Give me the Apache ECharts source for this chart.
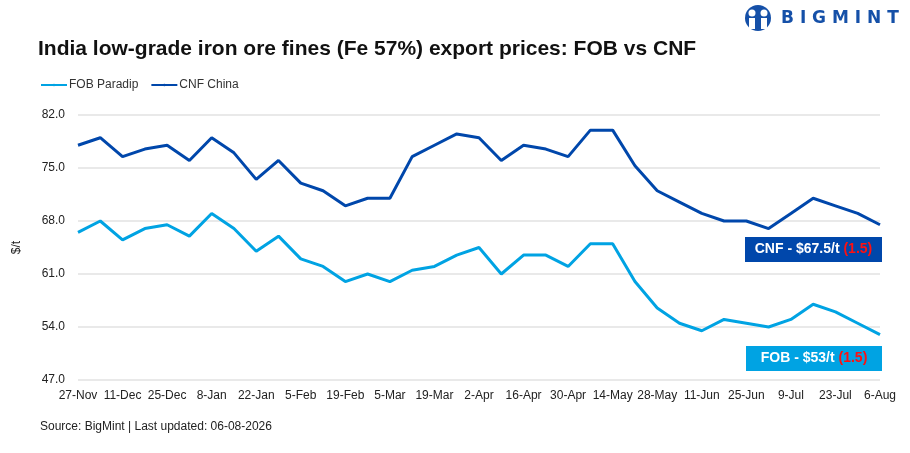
<!DOCTYPE html>
<html>
<head>
<meta charset="utf-8">
<script src="https://cdn.jsdelivr.net/npm/echarts@6/dist/echarts.min.js"></script>
<style>
  html, body { margin: 0; padding: 0; background: #fff; }
  #chart { width: 910px; height: 453px; }
</style>
</head>
<body>
<div id="chart"></div>
<script>
var weeks = ['27-Nov','4-Dec','11-Dec','18-Dec','25-Dec','1-Jan','8-Jan','15-Jan','22-Jan','29-Jan',
    '5-Feb','12-Feb','19-Feb','26-Feb','5-Mar','12-Mar','19-Mar','26-Mar','2-Apr','9-Apr',
    '16-Apr','23-Apr','30-Apr','7-May','14-May','21-May','28-May','4-Jun','11-Jun','18-Jun',
    '25-Jun','2-Jul','9-Jul','16-Jul','23-Jul','30-Jul','6-Aug'];
var fobParadip = [66.5, 68, 65.5, 67, 67.5, 66, 69, 67, 64, 66,
    63, 62, 60, 61, 60, 61.5, 62, 63.5, 64.5, 61,
    63.5, 63.5, 62, 65, 65, 60, 56.5, 54.5, 53.5, 55,
    54.5, 54, 55, 57, 56, 54.5, 53];
var cnfChina = [78, 79, 76.5, 77.5, 78, 76, 79, 77, 73.5, 76,
    73, 72, 70, 71, 71, 76.5, 78, 79.5, 79, 76,
    78, 77.5, 76.5, 80, 80, 75.3, 72, 70.5, 69, 68,
    68, 67, 69, 71, 70, 69, 67.5];
var yTicks = [47, 54, 61, 68, 75, 82];

var fobColor = '#00a3e3';
var cnfColor = '#0047ab';
var font = 'Liberation Sans, Arial, sans-serif';

var chart = echarts.init(document.getElementById('chart'));
chart.setOption({
    animation: false,
    textStyle: { fontFamily: font },
    title: {
        text: 'India low-grade iron ore fines (Fe 57%) export prices: FOB vs CNF',
        left: 33,
        top: 34,
        textStyle: {
            fontSize: 21,
            fontWeight: 'bold',
            color: '#111',
            fontFamily: font
        }
    },
    legend: {
        left: 35,
        top: 74,
        itemWidth: 26,
        itemHeight: 3,
        itemGap: 12,
        textStyle: { fontSize: 12, color: '#333', padding: [0, 0, 0, -3] },
        data: ['FOB Paradip', 'CNF China']
    },
    grid: {
        left: 78,
        right: 30,
        top: 115,
        bottom: 73
    },
    xAxis: {
        type: 'category',
        boundaryGap: false,
        data: weeks,
        axisLine: { show: false },
        axisTick: { show: false },
        axisLabel: {
            interval: 1,
            fontSize: 12,
            color: '#222',
            margin: 10
        }
    },
    yAxis: {
        type: 'value',
        min: yTicks[0],
        max: yTicks[yTicks.length - 1],
        interval: 7,
        name: '$/t',
        nameLocation: 'middle',
        nameGap: 55,
        nameTextStyle: { fontSize: 12, color: '#222' },
        axisLine: { show: false },
        axisTick: { show: false },
        axisLabel: {
            fontSize: 12,
            color: '#222',
            margin: 13,
            formatter: function (v) { return v.toFixed(1); }
        },
        splitLine: { lineStyle: { color: '#e2e2e2', width: 1.5 } }
    },
    series: [
        {
            name: 'FOB Paradip',
            type: 'line',
            data: fobParadip,
            symbol: 'none',
            lineStyle: { width: 3, color: fobColor },
            itemStyle: { color: fobColor }
        },
        {
            name: 'CNF China',
            type: 'line',
            data: cnfChina,
            symbol: 'none',
            lineStyle: { width: 3, color: cnfColor },
            itemStyle: { color: cnfColor }
        }
    ],
    graphic: [
        // logo
        {
            type: 'circle',
            shape: { cx: 758, cy: 18, r: 13 },
            style: { fill: '#1550a8' }
        },
        {
            type: 'circle',
            shape: { cx: 752, cy: 13, r: 3.5 },
            style: { fill: '#fff' }
        },
        {
            type: 'circle',
            shape: { cx: 764, cy: 13, r: 3.5 },
            style: { fill: '#fff' }
        },
        {
            type: 'rect',
            shape: { x: 749, y: 18, width: 6, height: 11 },
            style: { fill: '#fff' }
        },
        {
            type: 'rect',
            shape: { x: 761, y: 18, width: 6, height: 11 },
            style: { fill: '#fff' }
        },
        {
            type: 'text',
            left: 781,
            top: 10,
            style: {
                text: 'B I G M I N T',
                fontSize: 17,
                fontWeight: 'bold',
                fill: '#1550a8',
                fontFamily: 'DejaVu Sans, sans-serif'
            }
        },
        // CNF badge
        {
            type: 'rect',
            shape: { x: 745, y: 237, width: 137, height: 25 },
            style: { fill: cnfColor }
        },
        {
            type: 'text',
            x: 813.5,
            y: 249.5,
            style: {
                text: '{w|CNF - $67.5/t }{r|(1.5)}',
                align: 'center',
                verticalAlign: 'middle',
                rich: {
                    w: { fontSize: 14, fontWeight: 'bold', fill: '#fff', fontFamily: font },
                    r: { fontSize: 14, fontWeight: 'bold', fill: '#ff1010', fontFamily: font }
                }
            }
        },
        // FOB badge
        {
            type: 'rect',
            shape: { x: 746, y: 346, width: 136, height: 25 },
            style: { fill: fobColor }
        },
        {
            type: 'text',
            x: 814,
            y: 358.5,
            style: {
                text: '{w|FOB - $53/t }{r|(1.5)}',
                align: 'center',
                verticalAlign: 'middle',
                rich: {
                    w: { fontSize: 14, fontWeight: 'bold', fill: '#fff', fontFamily: font },
                    r: { fontSize: 14, fontWeight: 'bold', fill: '#ff1010', fontFamily: font }
                }
            }
        },
        // source
        {
            type: 'text',
            left: 40,
            top: 421,
            style: {
                text: 'Source: BigMint | Last updated: 06-08-2026',
                fontSize: 12,
                fill: '#222',
                fontFamily: font
            }
        }
    ]
});
</script>
</body>
</html>
